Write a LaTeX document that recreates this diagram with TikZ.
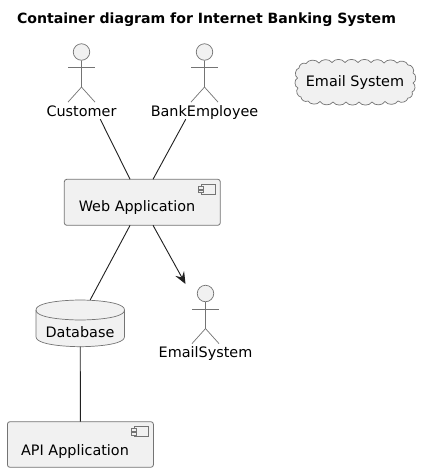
\documentclass[tikz,border=0pt]{standalone}
\usepackage{fontspec}
\setmainfont{DejaVu Sans}
\usetikzlibrary{arrows.meta}
\definecolor{boxfill}{HTML}{F1F1F1}
\definecolor{boxline}{HTML}{747474}
\definecolor{linkline}{HTML}{202020}
\tikzset{
  txt/.style={inner sep=0pt, text height=11pt, text depth=3pt, font=\fontsize{14.4}{16}\selectfont},
  comp/.style={draw=boxline, fill=boxfill, line width=0.8pt, rounded corners=2.5pt, inner sep=0pt, outer sep=0pt},
  part/.style={draw=boxline, fill=boxfill, line width=0.7pt},
  limb/.style={draw=boxline, line width=0.7pt},
  link/.style={draw=linkline, line width=0.9pt},
}
\begin{document}
\begin{tikzpicture}[x=1pt,y=-1pt]
  \useasboundingbox[fill=white] (0,0) rectangle (426,472);

  % Title
  \node[txt, font=\fontsize{14.1}{16}\selectfont\bfseries] (title) at (206.5,19) {Container diagram for Internet Banking System};

  % Actors
  \foreach \name/\x/\y/\lab in {customer/81.5/52/Customer, bank/204.5/52/BankEmployee, mailactor/205.5/293.5/EmailSystem}
  {
    \node[part, circle, inner sep=0pt, minimum size=16.5pt] (\name head) at (\x,\y) {};
    \draw[limb] (\name head.south) -- ++(0,26.5) coordinate (\name hip) -- ++(-13.5,15);
    \draw[limb] (\name hip) -- ++(13.5,15);
    \draw[limb] (\x-13.5,\y+15.5) -- (\x+13.5,\y+15.5);
    \node[txt] (\name) at (\x,\y+60) {\lab};
  }

  % Cloud
  \draw[part] (299,68) to[bend left=60] (306,63.5) to[bend left=55] (319,63) to[bend left=55] (332,62.5)
    to[bend left=55] (345,62.5) to[bend left=55] (358,62.5) to[bend left=55] (371,62.5) to[bend left=55] (384,63)
    to[bend left=55] (397,63) to[bend left=60] (408,65) to[bend left=70] (413,73) to[bend left=70] (413,83) to[bend left=70] (412,92)
    to[bend left=70] (408,98) to[bend left=60] (398,101) to[bend left=55] (385,101.5) to[bend left=55] (372,102)
    to[bend left=55] (359,102) to[bend left=55] (346,102) to[bend left=55] (333,102) to[bend left=55] (320,101.5)
    to[bend left=55] (308,101) to[bend left=60] (301,97) to[bend left=70] (298,88) to[bend left=70] (297.5,78) to[bend left=70] (299,68) -- cycle;
  \node[txt] (cloudlabel) at (355,82) {Email System};

  % Components
  \node[comp, minimum width=156pt, minimum height=46pt] (web) at (142.3,202.3) {};
  \node[txt] (weblabel) at (137,207.7) {Web Application};
  \node[comp, minimum width=146pt, minimum height=45.6pt] (api) at (80.4,444.5) {};
  \node[txt] (apilabel) at (75,451) {API Application};

  % Component icons
  \foreach \comp in {web, api}
  {
    \draw[part] ([shift={(-19.3,5)}]\comp.north east) rectangle ([shift={(-4.6,15)}]\comp.north east);
    \draw[part] ([shift={(-22.3,7)}]\comp.north east) rectangle ([shift={(-17,9.6)}]\comp.north east);
    \draw[part] ([shift={(-22.3,11)}]\comp.north east) rectangle ([shift={(-17,13.4)}]\comp.north east);
  }

  % Database
  \node[minimum width=88.5pt, minimum height=46.7pt, inner sep=0pt, outer sep=0pt] (db) at (80.25,323.3) {};
  \draw[part] (36,310) .. controls (36,300) and (80.25,300) .. (80.25,300) .. controls (80.25,300) and (124.5,300) .. (124.5,310)
    -- (124.5,336.7) .. controls (124.5,346.7) and (80.25,346.7) .. (80.25,346.7) .. controls (80.25,346.7) and (36,346.7) .. (36,336.7) -- cycle;
  \draw[limb] (36,310) .. controls (36,320) and (80.25,320) .. (80.25,320) .. controls (80.25,320) and (124.5,320) .. (124.5,310);
  \node[txt] (dblabel) at (80,333.7) {Database};

  % Connections
  \coordinate (mailtop) at (185.5,284);
  \draw[link] (customer.-21) -- (web.118);
  \draw[link] (bank.-159) -- (web.65);
  \draw[link] (web.-118) -- (db.67);
  \draw[link, -{Stealth[length=12pt,width=10pt,inset=4.5pt]}] (web.-65) -- (mailtop);
  \draw[link] (db.south) -- (api.north);
\end{tikzpicture}
\end{document}
